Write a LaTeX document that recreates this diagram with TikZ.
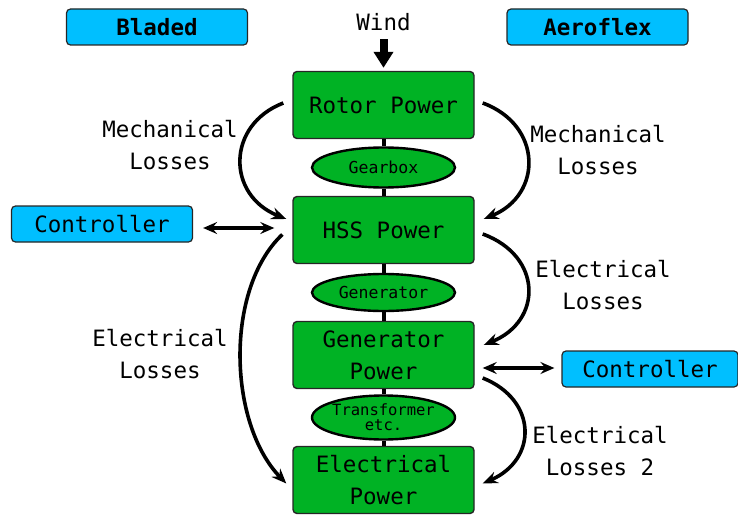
\documentclass[tikz,border=0pt]{standalone}
\usepackage{fontspec}
\setmainfont{DejaVu Sans Mono}
\usetikzlibrary{arrows.meta, positioning, shapes.geometric, calc}
\definecolor{powgreen}{RGB}{0,178,36}
\definecolor{toolblue}{RGB}{0,191,255}
\newcommand{\bigtxt}{\fontsize{22.5}{32}\selectfont}
\newcommand{\smalltxt}{\fontsize{16.5}{15}\selectfont}
\tikzset{
  powbox/.style  = {draw=black!85, line width=1.4pt, rounded corners=4pt, fill=powgreen,
                    minimum width=181pt, minimum height=67pt, align=center,
                    inner sep=2pt, font=\bigtxt},
  part/.style    = {ellipse, draw=black, line width=2.4pt, fill=powgreen,
                    minimum width=143pt, minimum height=40pt, align=center,
                    inner sep=0pt, font=\smalltxt},
  tool/.style    = {draw=black!85, line width=1.2pt, rounded corners=4pt, fill=toolblue,
                    minimum width=181pt, minimum height=36pt, inner sep=2pt, font=\bigtxt},
  lbl/.style     = {align=center, font=\bigtxt},
  link/.style    = {line width=4pt},
  loss/.style    = {-{Stealth[length=15pt, width=12pt, inset=5pt]}, line width=3.6pt},
  dbl/.style     = {{Stealth[length=14pt, width=12pt, inset=5pt]}-{Stealth[length=14pt, width=12pt, inset=5pt]},
                    line width=3.4pt},
}

\begin{document}
\begin{tikzpicture}[x=1pt, y=-1pt]
  \useasboundingbox (0,0) rectangle (738,516);

  % tool labels
  \node[tool, font=\bigtxt\bfseries] (bladed) at (157,27) {Bladed};
  \node[tool, font=\bigtxt\bfseries] (aeroflex) at (597.5,27) {Aeroflex};

  % power chain
  \node[powbox] (rotor) at (383.5,105) {Rotor Power};
  \node[powbox, below=56.6pt of rotor] (hss) {HSS Power};
  \node[powbox, below=56.6pt of hss] (genpower) {Generator\\Power};
  \node[powbox, below=56.6pt of genpower] (elecpower) {Electrical\\Power};

  \node[part] (gearbox) at ($(rotor.south)!0.5!(hss.north)$) {Gearbox};
  \node[part, minimum height=37pt] (generator) at ($(hss.south)!0.5!(genpower.north)$) {Generator};
  \node[part, minimum height=44pt, inner xsep=-1.5pt, font=\fontsize{15.5}{15}\selectfont]
    (transformer) at ($(genpower.south)!0.5!(elecpower.north)$) {Transformer\\etc.};

  \draw[link] (rotor) -- (gearbox);
  \draw[link] (gearbox) -- (hss);
  \draw[link] (hss) -- (generator);
  \draw[link] (generator) -- (genpower);
  \draw[link] (genpower) -- (transformer);
  \draw[link] (transformer) -- (elecpower);

  % wind input
  \node[lbl] (wind) at (383.5,22) {Wind};
  \draw[-{Triangle[length=16pt, width=19pt]}, line width=8pt, shorten <=5pt, shorten >=3pt]
    (wind) -- (rotor);

  % controllers
  \node[tool] (ctrlL) at (102,224) {Controller};
  \node[tool, minimum width=176pt] (ctrlR) at (650,369) {Controller};
  \draw[dbl, shorten <=10pt, shorten >=18pt]
    ([yshift=-4pt]ctrlL.east) -- ([yshift=-4pt]ctrlL.east -| hss.west);
  \draw[dbl, shorten <=7pt, shorten >=8pt]
    ([yshift=1pt]ctrlR.west) -- ([yshift=1pt]ctrlR.west -| genpower.east);

  % losses
  \node[lbl] (mechL) at (170,145) {Mechanical\\Losses};
  \node[lbl] (mechR) at (598,150) {Mechanical\\Losses};
  \node[lbl] (elecR) at (603,285) {Electrical\\Losses};
  \node[lbl] (elecL) at (160,354) {Electrical\\Losses};
  \node[lbl] (elecR2) at (600,451) {Electrical\\Losses 2};

  \draw[loss] ([xshift=-9pt,yshift=2pt]rotor.west)
    .. controls +(-57,22) and +(-60,-24) .. ([xshift=-6pt,yshift=11pt]hss.west);
  \draw[loss] ([xshift=8pt,yshift=2pt]rotor.east)
    .. controls +(60,22) and +(59,-24) .. ([xshift=9pt,yshift=11pt]hss.east);
  \draw[loss] ([xshift=8pt,yshift=-4pt]hss.east)
    .. controls +(60,22) and +(59,-24) .. ([xshift=9pt,yshift=10pt]genpower.east);
  \draw[loss] ([xshift=8pt,yshift=-23pt]genpower.east)
    .. controls +(55,22) and +(55,-24) .. ([xshift=8pt,yshift=-3.5pt]elecpower.east);
  \draw[loss] ([xshift=-10pt,yshift=-4.5pt]hss.west)
    .. controls +(-58,55) and +(-58,-60) .. ([xshift=-6pt,yshift=-3.5pt]elecpower.west);
\end{tikzpicture}
\end{document}
